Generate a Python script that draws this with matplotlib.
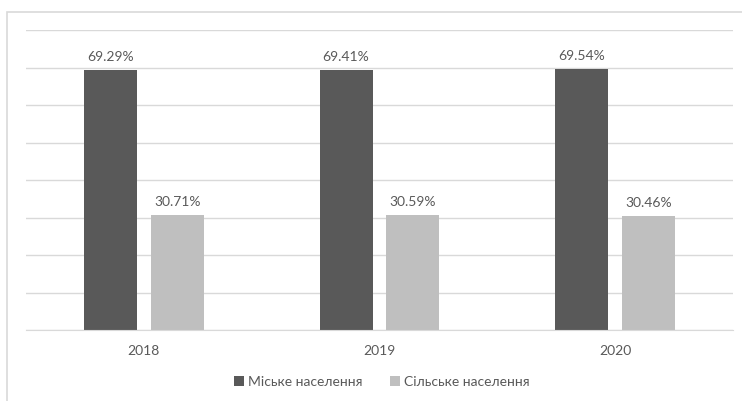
import matplotlib
matplotlib.use("Agg")
import matplotlib.pyplot as plt
import numpy as np
from matplotlib.patches import Rectangle

years = ["2018", "2019", "2020"]
urban = [69.29, 69.41, 69.54]
rural = [30.71, 30.59, 30.46]
series_names = ["Міське населення", "Сільське населення"]
colors = ["#595959", "#bfbfbf"]
text_color = "#595959"

plt.rcParams['font.family'] = ['Lato', 'DejaVu Sans']

fig = plt.figure(figsize=(7.42, 4.01), dpi=100)
W, H = 742, 401

# outer chart border (light gray, runs off right/bottom)
fig.patches.append(Rectangle((7 / W, -0.1), 1.2, 1 - 11.5 / H + 0.1,
                             transform=fig.transFigure, fill=False,
                             edgecolor="#d9d9d9", linewidth=1.2))

ax = fig.add_axes([26 / W, (H - 330) / H, 707 / W, 300 / H])
x = np.arange(len(years))
w = 0.225
off = 0.142
b1 = ax.bar(x - off, urban, w, color=colors[0], label=series_names[0], zorder=3)
b2 = ax.bar(x + off, rural, w, color=colors[1], label=series_names[1], zorder=3)

for bars, vals in ((b1, urban), (b2, rural)):
    for r, v in zip(bars, vals):
        ax.annotate(f"{v:.2f}%", (r.get_x() + r.get_width() / 2, v),
                    xytext=(0, 5), textcoords="offset points",
                    ha="center", va="bottom", fontsize=10, color=text_color)

ax.set_xlim(-0.5, len(years) - 0.5)
ax.set_ylim(0, 80)
ax.set_yticks(np.arange(0, 81, 10))
ax.yaxis.grid(True, color="#d9d9d9", linewidth=1.0, zorder=0)
ax.set_yticklabels([])
ax.tick_params(axis="y", length=0)
ax.set_xticks(x)
ax.set_xticklabels(years, fontsize=10, color=text_color)
ax.tick_params(axis="x", length=0, pad=11)
for s in ["top", "right", "left"]:
    ax.spines[s].set_visible(False)
ax.spines["bottom"].set_color("#d9d9d9")
ax.spines["bottom"].set_zorder(4)

fig.legend(handles=[b1, b2], labels=series_names, loc="center",
           bbox_to_anchor=(382 / W, 1 - 382 / H), ncol=2, frameon=False,
           fontsize=10, labelcolor=text_color, handlelength=0.7,
           handleheight=0.7, handletextpad=0.3, columnspacing=2.0)

fig.savefig("out.png", dpi=100)
